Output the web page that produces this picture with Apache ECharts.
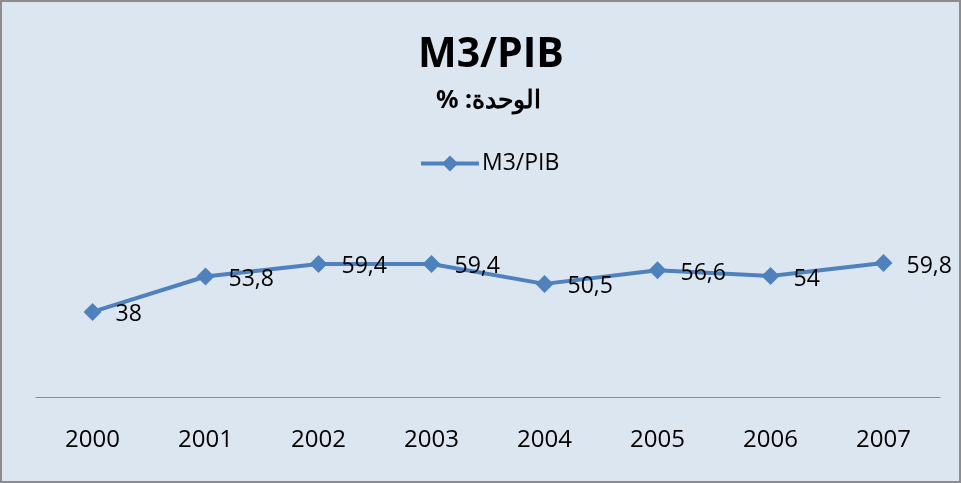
<!DOCTYPE html>
<html>
<head>
<meta charset="utf-8">
<script src="https://cdn.jsdelivr.net/npm/echarts@6/dist/echarts.min.js"></script>
<style>
  html, body { margin: 0; padding: 0; background: #dce6f1; }
  #chart { width: 961px; height: 483px; }
</style>
</head>
<body>
<div id="chart"></div>
<script>
  var years = ['2000', '2001', '2002', '2003', '2004', '2005', '2006', '2007'];
  var m3pib = [38, 53.8, 59.4, 59.4, 50.5, 56.6, 54, 59.8];

  var myChart = echarts.init(document.getElementById('chart'));
  var option = {
    backgroundColor: '#dce6f1',
    title: [{
      text: 'M3/PIB',
      left: 413,
      top: 30,
      textStyle: { fontFamily: 'Open Sans', fontSize: 41, fontWeight: 'bold', color: '#000' }
    }, {
      // RLM marks so the Arabic line is laid out right to left
      text: '\u200Fالوحدة: %\u200F',
      left: 431,
      top: 83,
      textStyle: { fontFamily: 'Noto Sans', fontSize: 25, fontWeight: 'bold', color: '#000' }
    }],
    legend: {
      data: ['M3/PIB'],
      top: 147,
      left: 414,
      itemWidth: 58,
      itemHeight: 20,
      itemGap: 4,
      lineStyle: { width: 4, color: '#4f81bd' },
      itemStyle: { color: '#4f81bd' },
      textStyle: { fontFamily: 'Open Sans', fontSize: 23, color: '#000', padding: [0, 0, 0, -2] }
    },
    graphic: [{
      type: 'rect',
      shape: { x: 1, y: 1, width: 959, height: 481 },
      style: { fill: 'none', stroke: '#8c8c8c', lineWidth: 2 },
      silent: true
    }],
    grid: { left: 36, right: 21, top: 173, bottom: 86 },
    xAxis: {
      type: 'category',
      data: years,
      boundaryGap: true,
      axisLine: { lineStyle: { color: '#8c8c8c', width: 1 } },
      axisTick: { show: false },
      axisLabel: { margin: 31, fontFamily: 'Open Sans', fontSize: 24, color: '#000' }
    },
    yAxis: {
      type: 'value',
      min: 0,
      max: 100,
      show: false,
      splitLine: { show: false }
    },
    series: [{
      name: 'M3/PIB',
      type: 'line',
      data: m3pib,
      symbol: 'diamond',
      symbolSize: 18,
      itemStyle: { color: '#4f81bd' },
      lineStyle: { color: '#4f81bd', width: 4 },
      label: {
        show: true,
        position: 'right',
        distance: 14,
        offset: [0, 3],
        fontFamily: 'Open Sans',
        fontSize: 23,
        color: '#000',
        formatter: function (p) { return String(p.value).replace('.', ','); }
      }
    }]
  };
  myChart.setOption(option, true);
</script>
</body>
</html>
